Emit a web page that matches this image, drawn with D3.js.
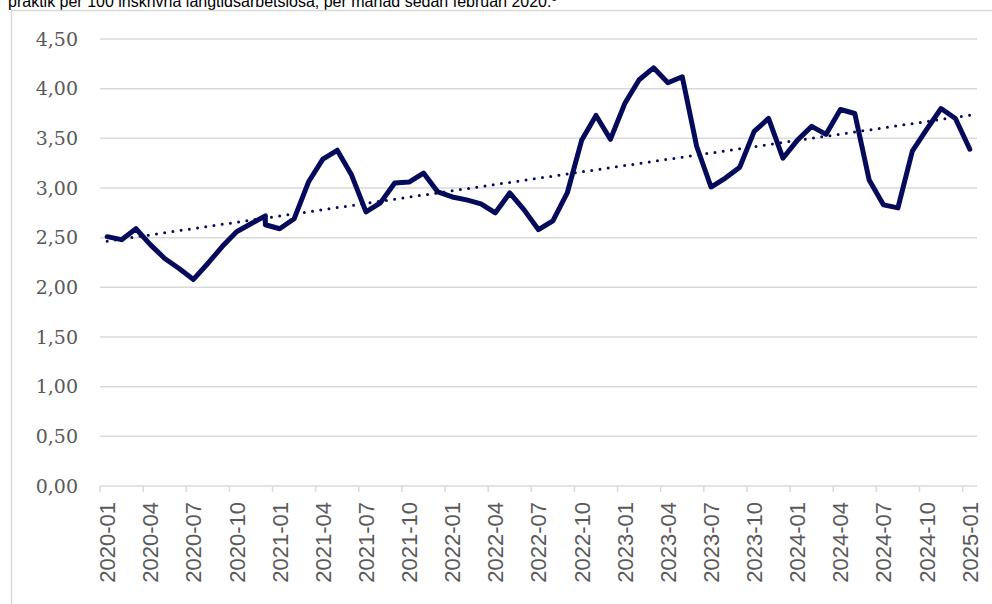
<!DOCTYPE html>
<html>
<head>
<meta charset="utf-8">
<script src="https://cdn.jsdelivr.net/npm/d3@7"></script>
<style>
  body { margin: 0; background: #fff; }
  svg { display: block; }
</style>
</head>
<body>
<div id="chart"></div>
<script>
const width = 992;
const height = 604;

// months (2020-12 appears twice in the source, plotted on the same date)
const months = [
    "2020-01","2020-02","2020-03","2020-04","2020-05","2020-06","2020-07","2020-08","2020-09","2020-10","2020-11","2020-12","2020-12",
    "2021-01","2021-02","2021-03","2021-04","2021-05","2021-06","2021-07","2021-08","2021-09","2021-10","2021-11","2021-12",
    "2022-01","2022-02","2022-03","2022-04","2022-05","2022-06","2022-07","2022-08","2022-09","2022-10","2022-11","2022-12",
    "2023-01","2023-02","2023-03","2023-04","2023-05","2023-06","2023-07","2023-08","2023-09","2023-10","2023-11","2023-12",
    "2024-01","2024-02","2024-03","2024-04","2024-05","2024-06","2024-07","2024-08","2024-09","2024-10","2024-11","2024-12",
    "2025-01"
];
const values = [
    2.51, 2.48, 2.59, 2.43, 2.29, 2.19, 2.08, 2.24, 2.41, 2.56, 2.64, 2.72, 2.63,
    2.59, 2.69, 3.06, 3.29, 3.38, 3.13, 2.76, 2.85, 3.05, 3.06, 3.15, 2.96,
    2.91, 2.88, 2.84, 2.75, 2.95, 2.78, 2.58, 2.67, 2.95, 3.48, 3.73, 3.49,
    3.85, 4.09, 4.21, 4.06, 4.12, 3.42, 3.01, 3.10, 3.21, 3.57, 3.70, 3.30,
    3.48, 3.62, 3.54, 3.79, 3.75, 3.08, 2.83, 2.80, 3.37, 3.59, 3.80, 3.70,
    3.39
];
const yTicks = [0, 0.5, 1, 1.5, 2, 2.5, 3, 3.5, 4, 4.5];
const tickMonths = ["2020-01","2020-04","2020-07","2020-10","2021-01","2021-04","2021-07","2021-10",
    "2022-01","2022-04","2022-07","2022-10","2023-01","2023-04","2023-07","2023-10",
    "2024-01","2024-04","2024-07","2024-10","2025-01"];
const caption = "praktik per 100 inskrivna långtidsarbetslösa, per månad sedan februari 2020.";

const data = months.map((m, i) => ({ month: m, value: values[i] }));
const uniqueMonths = Array.from(new Set(months));

const margin = { left: 100, right: 15, top: 39, bottom: 118 };

const svg = d3.select("#chart")
    .append("svg")
    .attr("width", width)
    .attr("height", height);

// caption, cut off at the top like in the source image
const cap = svg.append("text")
    .attr("x", 8)
    .attr("y", 7)
    .attr("font-family", "Liberation Sans, Arial, sans-serif")
    .attr("font-size", "16px")
    .attr("fill", "#000")
    .text(caption);
cap.append("tspan")
    .attr("font-size", "10px")
    .attr("dy", -6)
    .text("5");

// frame
svg.append("line")
    .attr("x1", 11.5).attr("x2", 11.5)
    .attr("y1", 10).attr("y2", height)
    .attr("stroke", "#d9d9d9").attr("stroke-width", 1.5);
svg.append("line")
    .attr("x1", 11).attr("x2", width)
    .attr("y1", 10.5).attr("y2", 10.5)
    .attr("stroke", "#d9d9d9").attr("stroke-width", 1.5);

const x = d3.scaleBand()
    .domain(uniqueMonths)
    .range([margin.left, width - margin.right])
    .paddingInner(0)
    .paddingOuter(0);

const y = d3.scaleLinear()
    .domain([0, 4.5])
    .range([height - margin.bottom, margin.top]);

const cx = m => x(m) + x.bandwidth() / 2;

// gridlines
svg.append("g")
    .selectAll("line")
    .data(yTicks.filter(d => d > 0))
    .enter().append("line")
    .attr("x1", margin.left)
    .attr("x2", width - margin.right)
    .attr("y1", d => y(d))
    .attr("y2", d => y(d))
    .attr("stroke", "#d9d9d9")
    .attr("stroke-width", 1.5);

// y labels
svg.append("g")
    .selectAll("text")
    .data(yTicks)
    .enter().append("text")
    .attr("x", 78)
    .attr("y", d => y(d))
    .attr("dy", "0.35em")
    .attr("text-anchor", "end")
    .attr("font-family", "DejaVu Serif, Liberation Serif, serif")
    .attr("font-size", "19px")
    .attr("fill", "#595959")
    .text(d => d3.format(".2f")(d).replace(".", ","));

// x axis
const xAxis = d3.axisBottom(x)
    .tickValues(tickMonths)
    .tickSize(0)
    .tickFormat(d => d);

const gx = svg.append("g")
    .attr("transform", `translate(0,${y(0)})`)
    .call(xAxis);
gx.select(".domain").remove();

svg.append("line")
    .attr("x1", margin.left)
    .attr("x2", width - margin.right)
    .attr("y1", y(0))
    .attr("y2", y(0))
    .attr("stroke", "#d9d9d9")
    .attr("stroke-width", 1.5);

// tick marks on category boundaries
svg.append("g")
    .selectAll("line")
    .data(tickMonths)
    .enter().append("line")
    .attr("x1", d => x(d))
    .attr("x2", d => x(d))
    .attr("y1", y(0))
    .attr("y2", y(0) + 6)
    .attr("stroke", "#d9d9d9")
    .attr("stroke-width", 1.5);

gx.selectAll("text")
    .attr("transform", "rotate(-90)")
    .attr("x", -16)
    .attr("y", 0)
    .attr("dy", "0.36em")
    .attr("text-anchor", "end")
    .attr("font-family", "Liberation Sans, Arial, sans-serif")
    .attr("font-size", "22px")
    .attr("fill", "#595959");

// linear trend (least squares over points)
const n = data.length;
const mx = d3.mean(data, (d, i) => i);
const my = d3.mean(values);
let sxy = 0, sxx = 0;
data.forEach((d, i) => {
    sxy += (i - mx) * (d.value - my);
    sxx += (i - mx) * (i - mx);
});
const slope = sxy / sxx;
const intercept = my - slope * mx;
const trend = [
    [cx(uniqueMonths[0]), y(intercept)],
    [cx(uniqueMonths[uniqueMonths.length - 1]), y(intercept + slope * (n - 1))]
];

svg.append("path")
    .attr("d", d3.line()(trend))
    .attr("fill", "none")
    .attr("stroke", "#050a5a")
    .attr("stroke-width", 3)
    .attr("stroke-linecap", "round")
    .attr("stroke-dasharray", "0 8.3");

// main line
const line = d3.line()
    .x(d => cx(d.month))
    .y(d => y(d.value));

svg.append("path")
    .datum(data)
    .attr("d", line)
    .attr("fill", "none")
    .attr("stroke", "#050a5a")
    .attr("stroke-width", 5)
    .attr("stroke-linejoin", "round")
    .attr("stroke-linecap", "round");
</script>
</body>
</html>
